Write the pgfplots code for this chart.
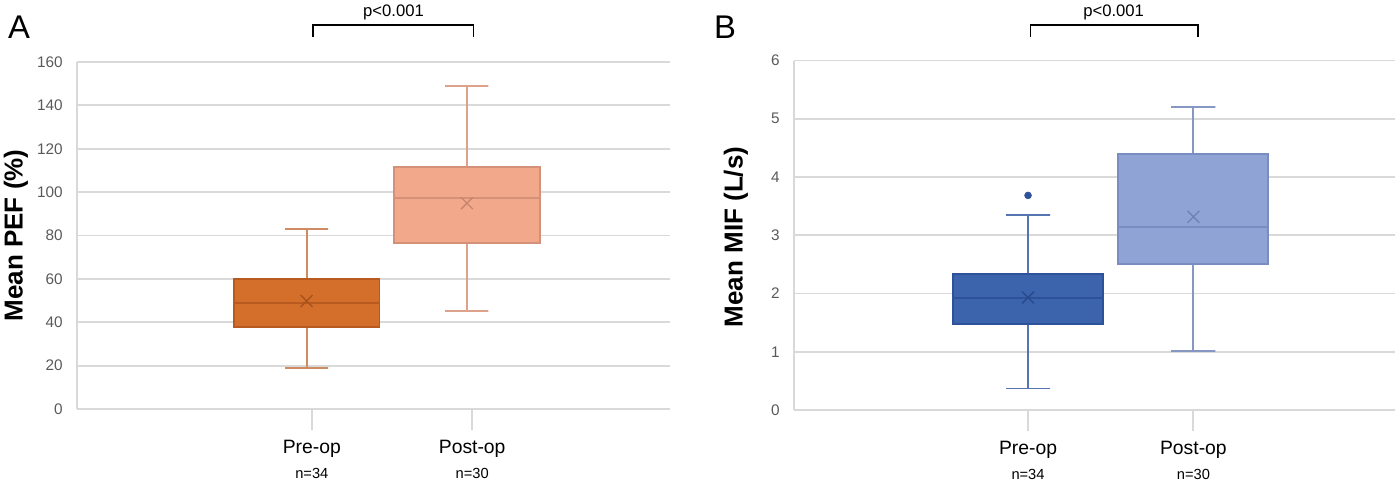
\documentclass[border=0pt]{standalone}
\usepackage{pgfplots}
\pgfplotsset{compat=1.18}
\usepackage{fontspec}
\setmainfont{Liberation Sans}
\definecolor{gridgray}{HTML}{D9D9D9}
\definecolor{ticktext}{HTML}{595959}
\definecolor{aPreFill}{HTML}{D46F2B}
\definecolor{aPreLine}{HTML}{B85A20}
\definecolor{aPreMean}{HTML}{A8521C}
\definecolor{aPreWhisk}{HTML}{CF8B62}
\definecolor{aPostFill}{HTML}{F2A98B}
\definecolor{aPostLine}{HTML}{D4917A}
\definecolor{aPostMean}{HTML}{C7856C}
\definecolor{aPostWhisk}{HTML}{DDA28A}
\definecolor{bPreFill}{HTML}{3B64AC}
\definecolor{bPreLine}{HTML}{2E529A}
\definecolor{bPreMean}{HTML}{284A8A}
\definecolor{bPreWhisk}{HTML}{5674B0}
\definecolor{bPostFill}{HTML}{8FA3D4}
\definecolor{bPostLine}{HTML}{7A8DC0}
\definecolor{bPostMean}{HTML}{6F82B4}
\definecolor{bPostWhisk}{HTML}{8697C4}

\pgfplotsset{
  panel/.style={
    scale only axis, anchor=south west,
    axis x line*=bottom, axis y line*=left,
    axis line style={draw=gridgray, line width=1.4pt, -},
    ymajorgrids, grid style={draw=gridgray, line width=1.4pt},
    major tick length=15.75pt, tick align=outside,
    xtick style={draw=gridgray, line width=1.4pt},
    ytick style={draw=none},
    yticklabel style={font=\fontsize{11.5}{13}\selectfont, text=ticktext, xshift=8.5pt,
      /pgf/number format/assume math mode=true},
    xticklabel style={align=center, text=black, yshift=-4pt},
    ylabel style={font=\fontsize{19.5}{22}\selectfont\bfseries},
    clip=false,
  },
  lw/.style={line width=1.4pt},
}

\begin{document}
\begin{tikzpicture}
\useasboundingbox (0pt,0pt) rectangle (1046.25pt,363pt);

% Panel A
\begin{axis}[panel, at={(57.75pt,56.25pt)}, width=444.75pt, height=260.25pt,
  xmin=-0.432, xmax=3.267, ymin=0, ymax=160, ytick={0,20,...,160},
  xtick={1.033,2.033},
  xticklabels={{\fontsize{14.5}{16}\selectfont Pre-op\\[7pt]\fontsize{11}{12}\selectfont n=34},
               {\fontsize{14.5}{16}\selectfont Post-op\\[7pt]\fontsize{11}{12}\selectfont n=30}},
  ylabel={Mean PEF (\%)},
  ylabel style={at={(axis description cs:-0.103,0.5)}, anchor=center}]
% Pre-op: whiskers 18.9 / 82.9, quartiles 37.8 / 60, median 48.9, mean 49.8
\addplot[draw=aPreWhisk, lw] coordinates {(0.866,82.9) (1.134,82.9) (1,82.9) (1,60)};
\addplot[draw=aPreWhisk, lw] coordinates {(0.866,18.9) (1.134,18.9) (1,18.9) (1,37.8)};
\addplot[draw=aPreLine, fill=aPreFill, lw] coordinates {(0.5455,37.8) (1.4545,37.8) (1.4545,60) (0.5455,60)} -- cycle;
\addplot[draw=aPreLine, lw] coordinates {(0.5455,48.9) (1.4545,48.9)};
\addplot[only marks, mark=x, mark size=6.3pt, mark options={draw=aPreMean, line width=1pt}] coordinates {(1,49.8)};
% Post-op: whiskers 45.0 / 149.1, quartiles 76.6 / 111.5, median 97.1, mean 94.9
\addplot[draw=aPostWhisk, lw] coordinates {(1.866,149.1) (2.134,149.1) (2,149.1) (2,111.5)};
\addplot[draw=aPostWhisk, lw] coordinates {(1.866,45.0) (2.134,45.0) (2,45.0) (2,76.6)};
\addplot[draw=aPostLine, fill=aPostFill, lw] coordinates {(1.5455,76.6) (2.4545,76.6) (2.4545,111.5) (1.5455,111.5)} -- cycle;
\addplot[draw=aPostLine, lw] coordinates {(1.5455,97.1) (2.4545,97.1)};
\addplot[only marks, mark=x, mark size=6.3pt, mark options={draw=aPostMean, line width=1pt}] coordinates {(2,94.9)};
\end{axis}

% Panel B
\begin{axis}[panel, at={(595.5pt,55.5pt)}, width=450.75pt, height=262.1pt,
  xmin=-0.415, xmax=3.219, ymin=0, ymax=6, ytick={0,1,...,6},
  xtick={1,2},
  xticklabels={{\fontsize{14.5}{16}\selectfont Pre-op\\[7pt]\fontsize{11}{12}\selectfont n=34},
               {\fontsize{14.5}{16}\selectfont Post-op\\[7pt]\fontsize{11}{12}\selectfont n=30}},
  ylabel={Mean MIF (L/s)},
  ylabel style={at={(axis description cs:-0.0965,0.495)}, anchor=center}]
% Pre-op: whiskers 0.368 / 3.351, quartiles 1.483 / 2.339, median 1.925, mean 1.93, outlier 3.684
\addplot[draw=bPreWhisk, lw] coordinates {(0.867,3.351) (1.133,3.351) (1,3.351) (1,2.339)};
\addplot[draw=bPreWhisk, lw] coordinates {(0.867,0.368) (1.133,0.368) (1,0.368) (1,1.483)};
\addplot[draw=bPreLine, fill=bPreFill, lw] coordinates {(0.5465,1.483) (1.4535,1.483) (1.4535,2.339) (0.5465,2.339)} -- cycle;
\addplot[draw=bPreLine, lw] coordinates {(0.5465,1.925) (1.4535,1.925)};
\addplot[only marks, mark=x, mark size=6.3pt, mark options={draw=bPreMean, line width=1pt}] coordinates {(1,1.93)};
\addplot[only marks, mark=*, mark size=2.6pt, mark options={draw=bPreLine, fill=bPreLine}] coordinates {(1,3.684)};
% Post-op: whiskers 1.017 / 5.195, quartiles 2.5 / 4.391, median 3.144, mean 3.316
\addplot[draw=bPostWhisk, lw] coordinates {(1.867,5.195) (2.133,5.195) (2,5.195) (2,4.391)};
\addplot[draw=bPostWhisk, lw] coordinates {(1.867,1.017) (2.133,1.017) (2,1.017) (2,2.5)};
\addplot[draw=bPostLine, fill=bPostFill, lw] coordinates {(1.5465,2.5) (2.4535,2.5) (2.4535,4.391) (1.5465,4.391)} -- cycle;
\addplot[draw=bPostLine, lw] coordinates {(1.5465,3.144) (2.4535,3.144)};
\addplot[only marks, mark=x, mark size=6.3pt, mark options={draw=bPostMean, line width=1pt}] coordinates {(2,3.316)};
\end{axis}

% panel letters
\node[font=\fontsize{24.6}{28}\selectfont] at (14.25pt,342.75pt) {A};
\node[font=\fontsize{24.6}{28}\selectfont] at (543.75pt,342.75pt) {B};

% significance brackets
\draw[line width=1.2pt] (234.75pt,335.25pt) -- (234.75pt,344.25pt) -- (355.1pt,344.25pt) -- (355.1pt,335.25pt);
\node[font=\fontsize{12.5}{14}\selectfont] at (295.1pt,353.6pt) {p<0.001};
\draw[line width=1.2pt] (772.9pt,335.25pt) -- (772.9pt,344.25pt) -- (898.35pt,344.25pt) -- (898.35pt,335.25pt);
\node[font=\fontsize{12.5}{14}\selectfont] at (835.2pt,353.6pt) {p<0.001};
\end{tikzpicture}
\end{document}
